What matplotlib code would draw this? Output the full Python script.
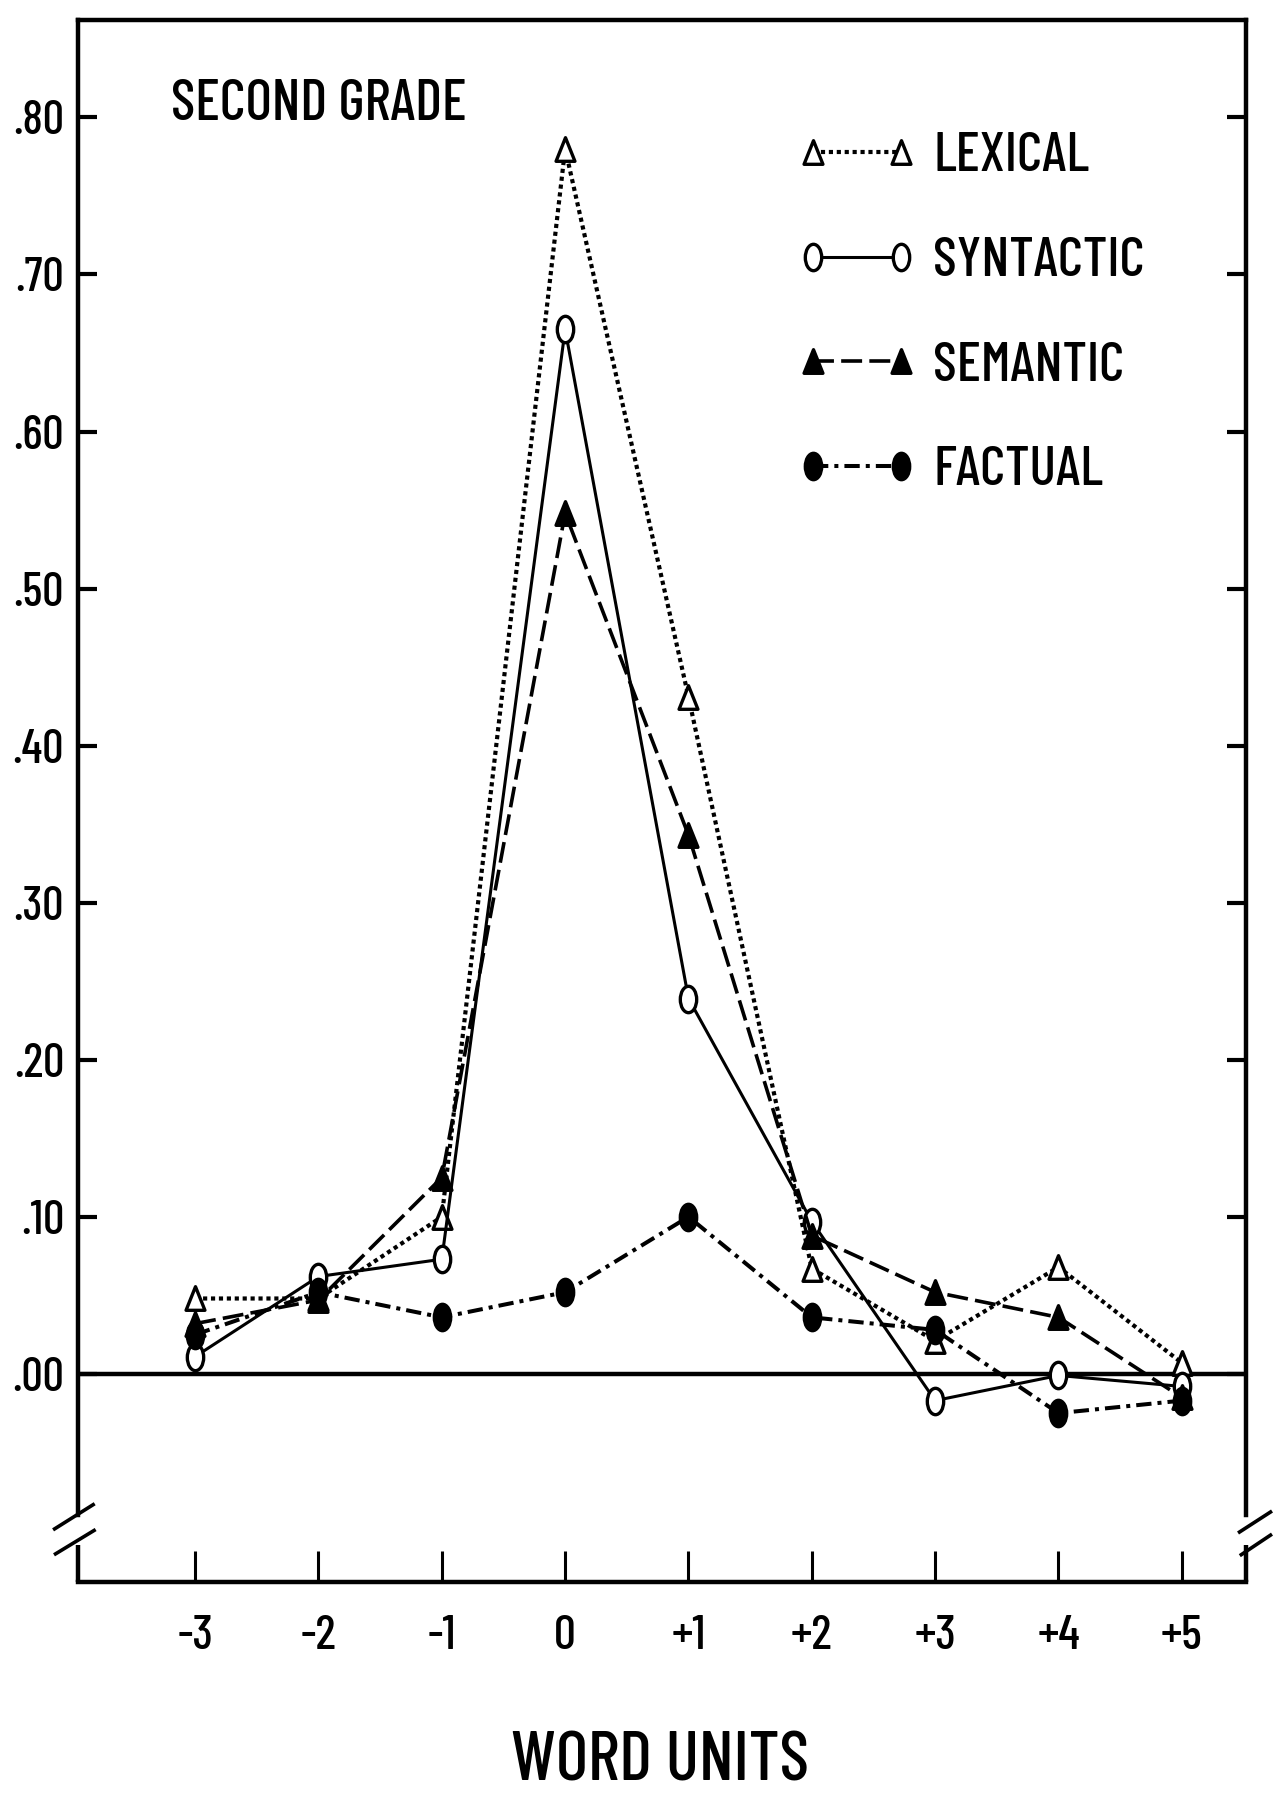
import matplotlib
matplotlib.use("Agg")
import matplotlib.pyplot as plt
from matplotlib.path import Path
from matplotlib.transforms import Affine2D, blended_transform_factory

plt.rcParams['font.family'] = ['Barlow Condensed', 'Roboto Condensed', 'Liberation Sans', 'DejaVu Sans']
plt.rcParams['font.weight'] = 500

# word-unit positions relative to the target word
UNITS = [-3, -2, -1, 0, 1, 2, 3, 4, 5]
UNIT_LABELS = ['-3', '-2', '-1', '0', '+1', '+2', '+3', '+4', '+5']

# proportions
LEXICAL = [0.048, 0.048, 0.100, 0.780, 0.431, 0.067, 0.021, 0.068, 0.007]
SYNTACTIC = [0.011, 0.062, 0.073, 0.665, 0.239, 0.097, -0.017, -0.001, -0.008]
SEMANTIC = [0.032, 0.047, 0.125, 0.548, 0.343, 0.088, 0.052, 0.036, -0.015]
FACTUAL = [0.025, 0.052, 0.036, 0.052, 0.100, 0.036, 0.028, -0.025, -0.017]

Y_TICKS = [0.0, 0.1, 0.2, 0.3, 0.4, 0.5, 0.6, 0.7, 0.8]
Y_LABELS = ['.00', '.10', '.20', '.30', '.40', '.50', '.60', '.70', '.80']

YLO, YHI = -0.1325, 0.862
GAP_TOP, GAP_BOT = -0.0898, -0.109     # axis-break gap in the side spines

# markers: the scan's circles are tall ellipses, triangles a bit narrow
ellipse = Path.unit_circle().transformed(Affine2D().scale(0.62, 1.0))
tri = Path([(0, 1), (-0.8, -1), (0.8, -1), (0, 1)], closed=True)

fig = plt.figure(figsize=(12.74, 18.01), dpi=100)
ax = fig.add_axes([0.0612, 0.1216, 0.9168, 0.8673])

series = [
    ("LEXICAL", LEXICAL, dict(ls=(0, (1.0, 0.9)), lw=3.0, marker=tri, ms=17, mfc="white")),
    ("SYNTACTIC", SYNTACTIC, dict(ls="-", lw=2.2, marker=ellipse, ms=19, mfc="white")),
    ("SEMANTIC", SEMANTIC, dict(ls=(0, (5.8, 2.0)), lw=2.6, marker=tri, ms=17, mfc="black")),
    ("FACTUAL", FACTUAL, dict(ls=(0, (3.8, 1.5, 1.0, 1.5)), lw=2.9, marker=ellipse, ms=19, mfc="black")),
]
for name, vals, st in series:
    ax.plot(UNITS, vals, color="black", mec="black", mew=2.4, label=name, **st)

ax.axhline(0, color="black", lw=3.2, zorder=1)

ax.set_xlim(-3.95, 5.52)
ax.set_ylim(YLO, YHI)
ax.set_xticks(UNITS)
ax.set_xticklabels(UNIT_LABELS)
ax.set_yticks(Y_TICKS)
ax.set_yticklabels(Y_LABELS)
ax.tick_params(axis="y", direction="in", length=14, width=3, left=True, right=True,
               labelsize=34, pad=10)
ax.tick_params(axis="x", direction="in", length=22, width=2.2, labelsize=35, pad=24)

for s in ax.spines.values():
    s.set_linewidth(3.2)
# break the side spines near the bottom, then add the short lower pieces and // marks
ax.spines["left"].set_bounds(GAP_TOP, YHI)
ax.spines["right"].set_bounds(GAP_TOP, YHI)
bt = blended_transform_factory(ax.transAxes, ax.transData)
for xs in (0, 1):
    ax.plot([xs, xs], [YLO, GAP_BOT], color="black", lw=3.2, transform=bt, clip_on=False,
            solid_capstyle="butt")
for (x0, y0, x1, y1) in [(-0.0200, 0.0340, 0.0130, 0.0495), (-0.0192, 0.0180, 0.0138, 0.0330),
                         (0.9945, 0.0320, 1.0210, 0.0448), (0.9960, 0.0175, 1.0210, 0.0300)]:
    ax.plot([x0, x1], [y0, y1], color="black", lw=2.6, transform=ax.transAxes, clip_on=False)

ax.text(0.08, 0.9455, "SECOND GRADE", transform=ax.transAxes, fontsize=41,
        ha="left", va="center")

ax.legend(loc="upper left", bbox_to_anchor=(0.6147, 0.928), frameon=False, numpoints=2,
          fontsize=40, borderpad=0, borderaxespad=0, handlelength=2.2,
          handletextpad=0.27, labelspacing=1.0)

fig.text(0.518, 0.021, "WORD UNITS", fontsize=50, ha="center", va="center")

fig.savefig("out.png", dpi=100)
